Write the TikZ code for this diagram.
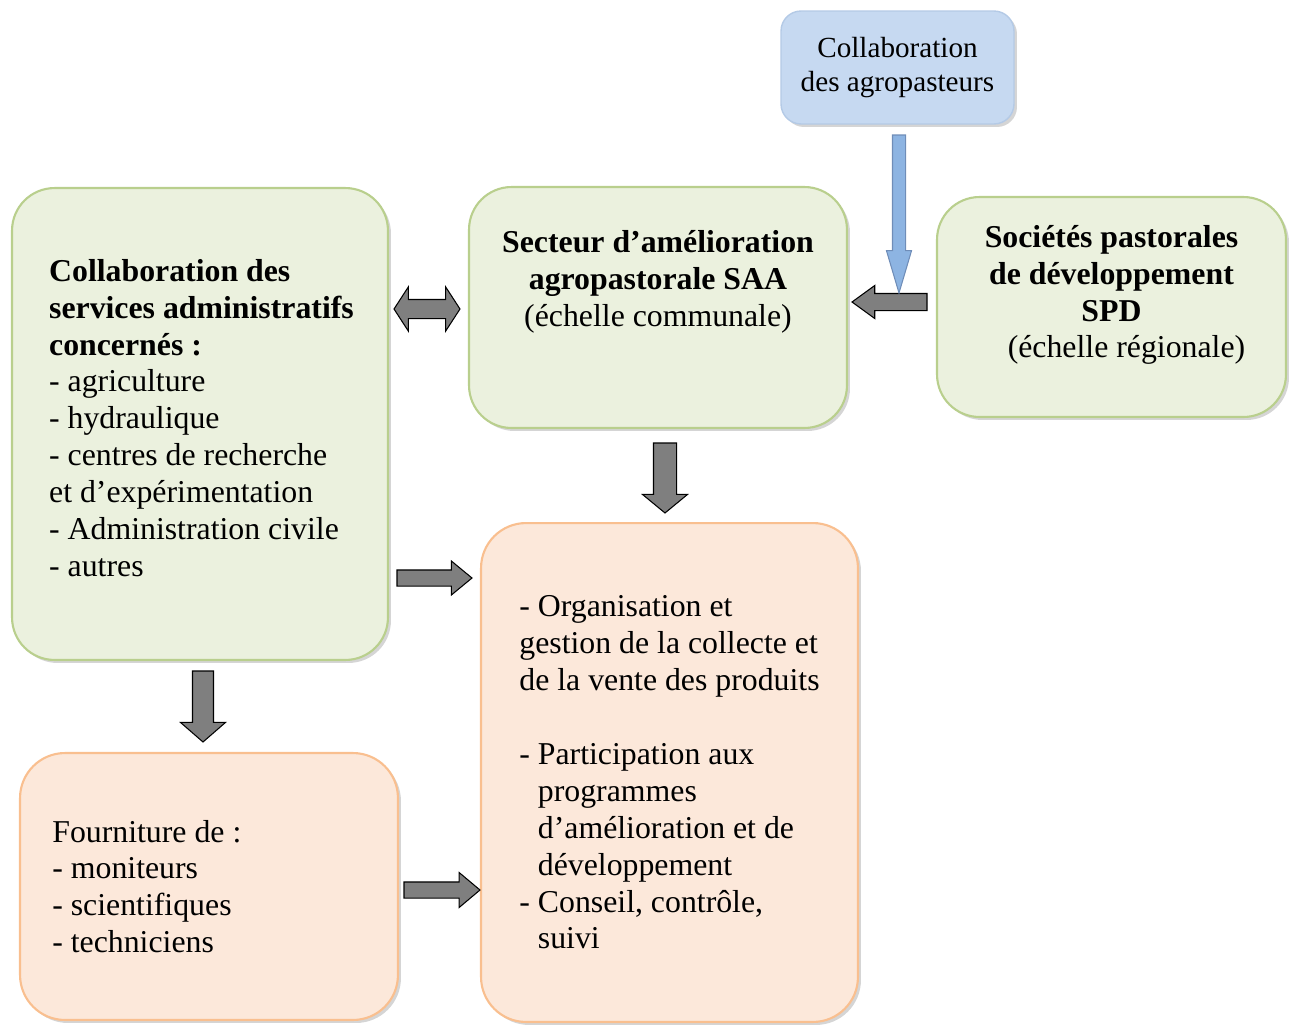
\documentclass[tikz,border=0pt]{standalone}
\usepackage{fontspec}
\setmainfont{Liberation Serif}
\usepackage{tikz}
\usetikzlibrary{shapes.arrows,shadows}
\definecolor{saaGreen}{HTML}{EBF1DE}
\definecolor{saaGreenLine}{HTML}{B9CF8D}
\definecolor{venteOrange}{HTML}{FCE8DA}
\definecolor{venteOrangeLine}{HTML}{F9BF8F}
\definecolor{agroBlue}{HTML}{C6D9F1}
\definecolor{agroBlueLine}{HTML}{B4CAE6}
\definecolor{agroArrow}{HTML}{8DB4E2}
\definecolor{agroArrowLine}{HTML}{6F8DB8}
\definecolor{flowGrey}{HTML}{7F7F7F}
\tikzset{
  boxtext/.style={font=\fontsize{18.1}{21}\selectfont, inner sep=0pt},
  boxshadow/.style={drop shadow={shadow xshift=0.06cm, shadow yshift=-0.06cm, opacity=0.3, fill=black!55}},
  greenbox/.style={rectangle, rounded corners=0.85cm, draw=saaGreenLine, fill=saaGreen, line width=1.2pt, boxshadow, font=\fontsize{18.1}{21}\selectfont},
  orangebox/.style={rectangle, rounded corners=0.9cm, draw=venteOrangeLine, fill=venteOrange, line width=1.2pt, boxshadow, font=\fontsize{18.1}{21}\selectfont},
  bluebox/.style={rectangle, rounded corners=0.4cm, draw=agroBlueLine, fill=agroBlue, line width=0.8pt, boxshadow, align=center, font=\fontsize{16.6}{19.8}\selectfont},
  % --- block arrows ---
  blockarrow/.style={single arrow, draw=black, fill=flowGrey, line width=0.6pt, inner xsep=0pt, outer sep=0pt, single arrow head indent=0pt, anchor=tail},
  bothwayarrow/.style={double arrow, draw=black, fill=flowGrey, line width=0.6pt, inner xsep=0pt, double arrow head indent=0pt},
  bluearrow/.style={single arrow, draw=agroArrowLine, fill=agroArrow, line width=0.6pt, inner xsep=0pt, outer sep=0pt, single arrow head indent=0pt, anchor=tail},
}
\begin{document}
\begin{tikzpicture}[x=0.02cm, y=-0.02cm]
  \useasboundingbox (0,0) rectangle (1296,1025);

  \node[bluebox, minimum width=4.66cm, minimum height=2.26cm] (agro) at (897.5,67.5) {Collaboration\\des agropasteurs};

  \node[greenbox, minimum width=7.56cm, minimum height=4.82cm] (saa) at (658,307.5) {};
  \node[boxtext, align=center] (saatext) at ([yshift=0.52cm]saa.center)
    {\textbf{Secteur d’amélioration}\\\textbf{agropastorale SAA}\\(échelle communale)};

  \node[greenbox, minimum width=6.98cm, minimum height=4.4cm] (spd) at (1111.5,307) {};
  \node[boxtext, align=center] (spdtext) at ([yshift=0.24cm]spd.center)
    {\textbf{Sociétés pastorales}\\\textbf{de développement}\\\textbf{SPD}\\\hspace*{0.6cm}(échelle régionale)};

  \node[greenbox, minimum width=7.52cm, minimum height=9.44cm] (admin) at (200,424) {};
  \node[boxtext, align=left] (admintext) at ([xshift=0.03cm, yshift=0.12cm]admin.center)
    {\textbf{Collaboration des}\\\textbf{services administratifs}\\\textbf{concernés :}\\- agriculture\\- hydraulique\\- centres de recherche\\et d’expérimentation\\- Administration civile\\- autres};

  \node[orangebox, minimum width=7.56cm, minimum height=5.34cm] (fourn) at (209,886.5) {};
  \node[boxtext, align=left, anchor=west] (fourntext) at ([xshift=0.66cm]fourn.west)
    {Fourniture de :\\- moniteurs\\- scientifiques\\- techniciens};

  \node[orangebox, align=left, minimum width=7.54cm, minimum height=9.98cm] (gestion) at (669.5,772.5)
    {- Organisation et\\gestion de la collecte et\\de la vente des produits\\[21pt]- Participation aux\\\phantom{- }programmes\\\phantom{- }d’amélioration et de\\\phantom{- }développement\\- Conseil, contrôle,\\\phantom{- }suivi};

  % arrows between the boxes
  \node[bothwayarrow, minimum height=1.32cm, inner ysep=0.18cm, double arrow head extend=0.25cm, double arrow tip angle=114] (adminsaa) at (427,309) {};
  \node[blockarrow, minimum height=1.5cm, inner ysep=0.15cm, single arrow head extend=0.18cm, single arrow tip angle=79] (admingestion) at (397,578) {};
  \node[blockarrow, rotate=180, minimum height=1.5cm, inner ysep=0.16cm, single arrow head extend=0.16cm, single arrow tip angle=72] (spdsaa) at (927,302) {};
  \node[bluearrow, rotate=-90, minimum height=3.16cm, inner ysep=0.12cm, single arrow head extend=0.12cm, single arrow tip angle=33] (agrodown) at (899,135) {};
  \node[blockarrow, rotate=-90, minimum height=1.4cm, inner ysep=0.22cm, single arrow head extend=0.22cm, single arrow tip angle=101] (saagestion) at (665,443) {};
  \node[blockarrow, rotate=-90, minimum height=1.42cm, inner ysep=0.2cm, single arrow head extend=0.24cm, single arrow tip angle=98] (adminfourn) at (203,671) {};
  \node[blockarrow, minimum height=1.52cm, inner ysep=0.15cm, single arrow head extend=0.19cm, single arrow tip angle=80] (fourngestion) at (404,890) {};
\end{tikzpicture}
\end{document}
